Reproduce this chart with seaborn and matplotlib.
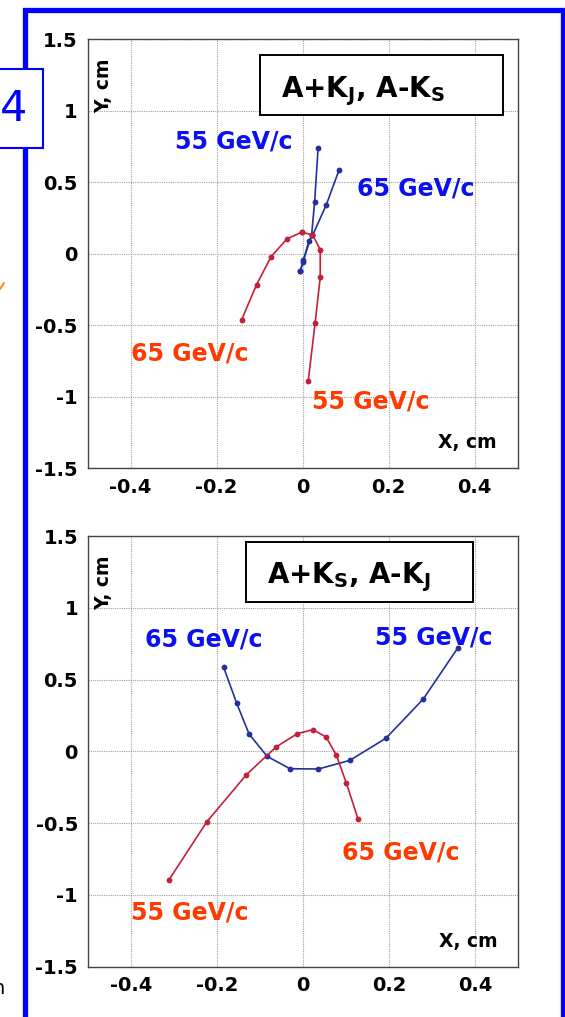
import matplotlib
matplotlib.use("Agg")
import matplotlib.pyplot as plt
import seaborn as sns
from matplotlib.patches import Rectangle
from matplotlib.lines import Line2D
from matplotlib.ticker import MultipleLocator

sns.set_style("white")
plt.rcParams['font.family'] = ['DejaVu Sans']
plt.rcParams['mathtext.fontset'] = 'dejavusans'
plt.rcParams['text.color'] = 'black'

# --- data: track points (X, Y in cm) ---
# top panel: A+K_J, A-K_S
top_blue55_x = [-0.005, 0.001, 0.021, 0.028, 0.036]
top_blue55_y = [-0.117, -0.054, 0.133, 0.365, 0.738]
top_blue65_x = [-0.005, 0.002, 0.015, 0.023, 0.055, 0.085]
top_blue65_y = [-0.117, -0.045, 0.093, 0.128, 0.342, 0.588]
top_red65_x = [-0.002, -0.036, -0.073, -0.107, -0.142]
top_red65_y = [0.151, 0.105, -0.019, -0.216, -0.463]
top_red55_x = [-0.002, 0.023, 0.041, 0.041, 0.029, 0.013]
top_red55_y = [0.151, 0.133, 0.030, -0.165, -0.486, -0.891]

# bottom panel: A+K_S, A-K_J
bot_blue_x = [-0.184, -0.154, -0.125, -0.083, -0.030, 0.036, 0.109, 0.193, 0.280, 0.360]
bot_blue_y = [0.585, 0.337, 0.121, -0.035, -0.121, -0.123, -0.063, 0.091, 0.365, 0.720]
bot_red_x = [-0.312, -0.223, -0.131, -0.062, -0.013, 0.023, 0.054, 0.078, 0.101, 0.128]
bot_red_y = [-0.899, -0.490, -0.162, 0.031, 0.123, 0.151, 0.100, -0.028, -0.220, -0.469]

x_ticks = [-0.4, -0.2, 0, 0.2, 0.4]
x_ticklabels = ['-0.4', '-0.2', '0', '0.2', '0.4']
y_ticks = [-1.5, -1, -0.5, 0, 0.5, 1, 1.5]
y_ticklabels = ['-1.5', '-1', '-0.5', '0', '0.5', '1', '1.5']

top_title = r'A+K$_\mathbf{J}$, A-K$_\mathbf{S}$'
bot_title = r'A+K$_\mathbf{S}$, A-K$_\mathbf{J}$'

# label text and position (left x, centre y) in data units
top_labels = [('55 GeV/c', -0.297, 0.784, 'blue'), ('65 GeV/c', 0.126, 0.458, 'blue'),
              ('65 GeV/c', -0.400, -0.700, 'red'), ('55 GeV/c', 0.021, -1.030, 'red')]
bot_labels = [('65 GeV/c', -0.367, 0.778, 'blue'), ('55 GeV/c', 0.168, 0.790, 'blue'),
              ('65 GeV/c', 0.091, -0.707, 'red'), ('55 GeV/c', -0.400, -1.124, 'red')]

LINE = {'blue': '#25309e', 'red': '#c4203a'}
TEXT = {'blue': '#0a10f0', 'red': '#ff3a00'}

W, H = 565, 1017
fig = plt.figure(figsize=(W / 100, H / 100), dpi=100)


def track(ax, xs, ys, col):
    sns.lineplot(x=xs, y=ys, ax=ax, sort=False, estimator=None, color=LINE[col],
                 marker='o', markersize=4.2, markeredgewidth=0, linewidth=1.2, zorder=3)


def style_axes(ax, title, title_box, title_pos):
    ax.set_xlim(-0.5, 0.5)
    ax.set_ylim(-1.5, 1.5)
    ax.set_xticks(x_ticks)
    ax.set_xticklabels(x_ticklabels)
    ax.set_yticks(y_ticks)
    ax.set_yticklabels(y_ticklabels)
    ax.xaxis.set_minor_locator(MultipleLocator(0.05))
    ax.yaxis.set_minor_locator(MultipleLocator(0.25))
    ax.tick_params(which='both', direction='in', colors='#333333', top=False, right=False)
    ax.tick_params(which='major', length=7, width=0.9, pad=7, labelsize=14, labelcolor='black')
    ax.tick_params(which='minor', length=3.5, width=0.8)
    for lab in ax.get_xticklabels() + ax.get_yticklabels():
        lab.set_fontweight('bold')
    for sp in ax.spines.values():
        sp.set_color('#444444')
        sp.set_linewidth(1.0)
    ax.grid(True, which='major', color='#a0a0a0', linestyle=(0, (1, 1)), linewidth=0.8)
    ax.set_axisbelow(True)
    ax.set_xlabel('')
    ax.set_ylabel('')
    x0, x1, y0, y1 = title_box
    ax.add_patch(Rectangle((x0, y0), x1 - x0, y1 - y0, transform=ax.transAxes,
                           facecolor='white', edgecolor='black', linewidth=1.4, zorder=5))
    ax.text(title_pos[0], title_pos[1], title, transform=ax.transAxes, fontsize=20,
            fontweight='bold', color='black', ha='left', va='baseline', zorder=6)
    ax.text(0.037, 0.955, 'Y, cm', transform=ax.transAxes, rotation=90, fontsize=13.5,
            fontweight='bold', color='black', ha='center', va='top')
    ax.text(0.952, 0.059, 'X, cm', transform=ax.transAxes, fontsize=13.5,
            fontweight='bold', color='black', ha='right', va='center')


def labels(ax, items):
    for txt, x, y, col in items:
        ax.text(x, y, txt, color=TEXT[col], fontsize=17, fontweight='bold',
                ha='left', va='center', zorder=7)


# --- top panel ---
ax1 = fig.add_axes([87.5 / W, 1 - 468.3 / H, 430.2 / W, 429 / H])
track(ax1, top_blue55_x, top_blue55_y, 'blue')
track(ax1, top_blue65_x, top_blue65_y, 'blue')
track(ax1, top_red65_x, top_red65_y, 'red')
track(ax1, top_red55_x, top_red55_y, 'red')
style_axes(ax1, top_title, (0.401, 0.965, 0.824, 0.963), (0.45, 0.866))
labels(ax1, top_labels)

# --- bottom panel ---
ax2 = fig.add_axes([87.7 / W, 1 - 966.7 / H, 430.3 / W, 430.7 / H])
track(ax2, bot_blue_x, bot_blue_y, 'blue')
track(ax2, bot_red_x, bot_red_y, 'red')
style_axes(ax2, bot_title, (0.368, 0.896, 0.847, 0.987), (0.416, 0.890))
labels(ax2, bot_labels)

# --- slide decorations: blue frame, "4" box, fragments of neighbours ---
fig.add_artist(Rectangle((24.5 / W, -0.02), (562.5 - 24.5) / W, 1 - 9.7 / H + 0.02,
                         transform=fig.transFigure, fill=False, edgecolor='#0000ff',
                         linewidth=3.8, zorder=10))
fig.add_artist(Rectangle((-0.05, 1 - 148 / H), 43 / W + 0.05, 79 / H,
                         transform=fig.transFigure, facecolor='white', edgecolor='#0000ff',
                         linewidth=1.5, zorder=11))
fig.text(27 / W, 1 - 109 / H, '4', color='#0000ff', fontsize=31, ha='right', va='center',
         zorder=12)
fig.add_artist(Line2D([0, 4 / W], [1 - 289 / H, 1 - 283 / H], transform=fig.transFigure,
                      color='#ff8c1a', linewidth=1.5))
fig.text(4 / W, 1 - 988 / H, 'n', fontsize=14, color='black', ha='right', va='center')

fig.savefig("out.png", dpi=100)
